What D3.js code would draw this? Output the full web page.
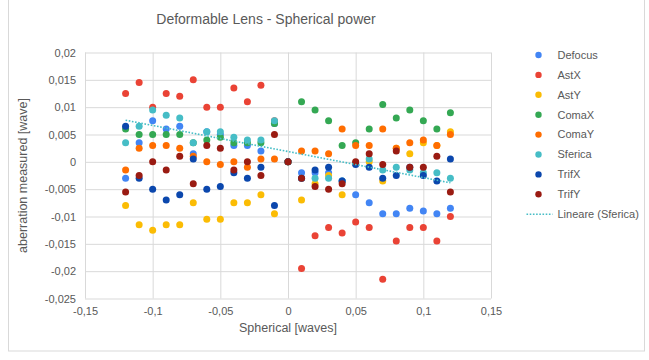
<!DOCTYPE html>
<html>
<head>
<meta charset="utf-8">
<script src="https://cdn.jsdelivr.net/npm/d3@7"></script>
<style>
  html, body { margin: 0; padding: 0; background: #fff; }
  svg { display: block; font-family: "Liberation Sans", Arial, sans-serif; }
</style>
</head>
<body>
<svg id="chart" width="649" height="360"></svg>
<script>
// Spherical power steps (waves)
const spherical = [-0.12, -0.11, -0.10, -0.09, -0.08, -0.07, -0.06, -0.05, -0.04, -0.03, -0.02, -0.01,
                   0, 0.01, 0.02, 0.03, 0.04, 0.05, 0.06, 0.07, 0.08, 0.09, 0.10, 0.11, 0.12];

// Measured aberrations (waves), one value per spherical step
const defocus = [-0.003, 0.0035, 0.0075, 0.006, 0.0065, 0.0015, 0.0055, 0.005, 0.003, 0.003, 0.002, 0.007,
                 0, -0.002, -0.002, -0.002, -0.0035, -0.006, -0.0075, -0.0095, -0.0095, -0.0085, -0.009, -0.0095, -0.0085];
const astX = [0.0125, 0.0145, 0.01, 0.0125, 0.012, 0.015, 0.01, 0.01, 0.0135, 0.011, 0.014, 0.0075,
              0, -0.0195, -0.0135, -0.012, -0.013, -0.011, -0.012, -0.0215, -0.0145, -0.012, -0.012, -0.0145, -0.01];
const astY = [-0.008, -0.0115, -0.0125, -0.0115, -0.0115, -0.0075, -0.0105, -0.0105, -0.0075, -0.0075, -0.006, -0.0095,
              0, -0.007, -0.004, -0.0025, -0.006, -0.0003, 0, -0.0035, 0.0025, 0.0015, 0.0035, 0.003, 0.0055];
const comaX = [0.006, 0.005, 0.005, 0.005, 0.005, 0.0035, 0.004, 0.0045, 0.0035, 0.0035, 0.0035, 0.007,
               0, 0.011, 0.0095, 0.0075, 0.003, 0.0035, 0.006, 0.0105, 0.008, 0.0095, 0.0075, 0.006, 0.009];
const comaY = [-0.0015, 0.0025, 0.003, 0.003, 0.0025, 0.001, 0, -0.0005, 0, -0.001, 0.0005, 0.0005,
               0, 0.002, 0.002, 0.0015, 0.006, 0.003, 0.003, 0.006, 0.0025, 0.0035, 0.004, 0.003, 0.005];
const sferica = [0.0035, 0.0065, 0.0095, 0.0085, 0.008, 0.0035, 0.0055, 0.0055, 0.0045, 0.004, 0.004, 0.0075,
                 0, -0.003, -0.003, -0.003, -0.0035, -0.0003, 0.0005, -0.0015, -0.001, -0.0015, -0.002, -0.002, -0.003];
const trifX = [0.0065, -0.003, -0.005, -0.007, -0.006, 0.0005, -0.005, -0.0045, -0.002, -0.003, -0.001, -0.008,
               0, -0.003, -0.0015, -0.001, -0.0035, -0.0005, -0.001, -0.003, -0.0025, -0.001, -0.0025, -0.0035, 0.0005];
const trifY = [-0.0055, -0.0025, 0, -0.0015, 0.001, -0.004, 0.003, 0.0025, -0.0015, 0, -0.0025, 0.005,
               0, -0.003, -0.0045, -0.005, -0.004, 0, 0.0015, -0.0005, 0.002, -0.001, -0.001, 0.001, -0.0055];

const seriesNames = ["Defocus", "AstX", "AstY", "ComaX", "ComaY", "Sferica", "TrifX", "TrifY"];
const seriesValues = [defocus, astX, astY, comaX, comaY, sferica, trifX, trifY];
const seriesColors = ["#4285f4", "#ea4335", "#fbbc04", "#34a853", "#ff6d01", "#46bdc6", "#0b47ad", "#9a1b12"];
const trendLabel = "Lineare (Sferica)";

const xTicks = [-0.15, -0.1, -0.05, 0, 0.05, 0.1, 0.15];
const yTicks = [-0.025, -0.02, -0.015, -0.01, -0.005, 0, 0.005, 0.01, 0.015, 0.02];

const svg = d3.select("#chart");
const W = 649, H = 360;
const plot = { left: 85, right: 491, top: 52.5, bottom: 298.5 };

// Decimal comma, hyphen minus
const fmt = v => String(+v.toFixed(3)).replace(".", ",");

svg.append("rect").attr("x", 0).attr("y", 0).attr("width", W).attr("height", H).attr("fill", "#fff");
// chart frame
svg.append("rect")
  .attr("x", 8.5).attr("y", -1).attr("width", 636).attr("height", 352)
  .attr("fill", "none").attr("stroke", "#d9d9d9");

const x = d3.scaleLinear().domain([-0.15, 0.15]).range([plot.left, plot.right]);
const y = d3.scaleLinear().domain([-0.025, 0.02]).range([plot.bottom, plot.top]);

// Title
svg.append("text")
  .attr("x", 266).attr("y", 23.5)
  .attr("text-anchor", "middle")
  .attr("font-size", 14).attr("fill", "#595959")
  .text("Deformable Lens - Spherical power");

// Horizontal gridlines + y labels
const yAxis = svg.append("g")
  .attr("transform", `translate(${plot.left},0)`)
  .call(d3.axisLeft(y).tickValues(yTicks).tickSize(-(plot.right - plot.left)).tickPadding(9).tickFormat(fmt));
yAxis.select(".domain").remove();
yAxis.selectAll(".tick line").attr("stroke", "#d9d9d9").attr("stroke-width", 1);
yAxis.selectAll(".tick text").attr("font-size", 11).attr("fill", "#595959")
  .attr("font-family", "Liberation Sans, Arial, sans-serif");

// Vertical gridlines + x labels
const xAxis = svg.append("g")
  .attr("transform", `translate(0,${plot.bottom})`)
  .call(d3.axisBottom(x).tickValues(xTicks).tickSize(-(plot.bottom - plot.top)).tickPadding(9).tickFormat(fmt));
xAxis.select(".domain").remove();
xAxis.selectAll(".tick line").attr("stroke", "#d9d9d9").attr("stroke-width", 1);
xAxis.selectAll(".tick text").attr("font-size", 11).attr("fill", "#595959")
  .attr("font-family", "Liberation Sans, Arial, sans-serif");

// Axis titles
svg.append("text")
  .attr("x", (plot.left + plot.right) / 2).attr("y", 332)
  .attr("text-anchor", "middle").attr("font-size", 12.5).attr("fill", "#595959")
  .text("Spherical [waves]");
svg.append("text")
  .attr("transform", `translate(27,${(plot.top + plot.bottom) / 2}) rotate(-90)`)
  .attr("text-anchor", "middle").attr("font-size", 12.5).attr("fill", "#595959")
  .text("aberration measured [wave]");

// Scatter points, series drawn in order
seriesValues.forEach((vals, i) => {
  svg.append("g").selectAll("circle")
    .data(vals.map((v, k) => [spherical[k], v]))
    .join("circle")
    .attr("cx", d => x(d[0]))
    .attr("cy", d => y(d[1]))
    .attr("r", 3.5)
    .attr("fill", seriesColors[i]);
});

// Least-squares linear fit for Sferica
const mx = d3.mean(spherical), my = d3.mean(sferica);
const sxy = d3.sum(spherical, (v, k) => (v - mx) * (sferica[k] - my));
const sxx = d3.sum(spherical, v => (v - mx) * (v - mx));
const slope = sxy / sxx, intercept = my - slope * mx;
const xr = d3.extent(spherical);
svg.append("line")
  .attr("x1", x(xr[0])).attr("y1", y(intercept + slope * xr[0]))
  .attr("x2", x(xr[1])).attr("y2", y(intercept + slope * xr[1]))
  .attr("stroke", "#46bdc6").attr("stroke-width", 1.6)
  .attr("stroke-dasharray", "1.6,1.6");

// Legend
const legend = svg.append("g");
const legendTop = 55, legendStep = 19.9;
seriesNames.forEach((name, i) => {
  const ly = legendTop + i * legendStep;
  legend.append("circle").attr("cx", 538.5).attr("cy", ly).attr("r", 3.2).attr("fill", seriesColors[i]);
  legend.append("text").attr("x", 557.5).attr("y", ly).attr("dy", "0.35em")
    .attr("font-size", 11).attr("fill", "#595959").text(name);
});
const ty = legendTop + seriesNames.length * legendStep;
legend.append("line")
  .attr("x1", 526.5).attr("x2", 552.5).attr("y1", ty).attr("y2", ty)
  .attr("stroke", "#46bdc6").attr("stroke-width", 1.6).attr("stroke-dasharray", "1.6,1.6");
legend.append("text").attr("x", 557.5).attr("y", ty).attr("dy", "0.35em")
  .attr("font-size", 11).attr("fill", "#595959").text(trendLabel);
</script>
</body>
</html>
